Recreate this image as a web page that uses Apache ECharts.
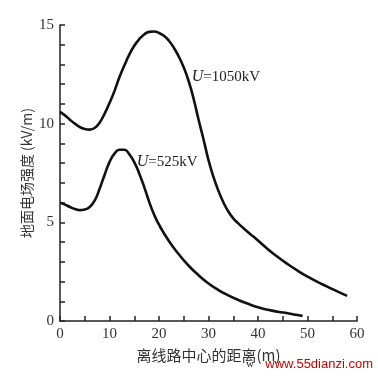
<!DOCTYPE html>
<html><head><meta charset="utf-8">
<script src="https://cdn.jsdelivr.net/npm/echarts@6/dist/echarts.min.js"></script>
<style>html,body{margin:0;padding:0;background:#fff}#c{width:378px;height:378px}</style>
</head><body><div id="c"></div>
<script>
const x1050 = [0, 1, 2, 3, 4, 5, 6, 7, 8, 9, 10, 11, 12, 13, 14, 15, 16, 17, 18, 19, 20, 21, 22, 23, 24, 25, 26, 27, 28, 29, 30, 31, 32, 33, 34, 35, 36, 37, 38, 39, 40, 42, 44, 46, 48, 50, 52, 54, 56, 58];
const y1050 = [10.6, 10.42, 10.2, 10.0, 9.83, 9.73, 9.7, 9.78, 10.05, 10.5, 11.05, 11.65, 12.35, 12.95, 13.5, 13.95, 14.28, 14.52, 14.65, 14.67, 14.6, 14.45, 14.2, 13.85, 13.4, 12.85, 12.15, 11.25, 10.2, 9.2, 8.15, 7.3, 6.6, 6.02, 5.55, 5.2, 4.95, 4.72, 4.5, 4.29, 4.08, 3.64, 3.24, 2.88, 2.55, 2.25, 1.98, 1.74, 1.5, 1.27];
const x525 = [0, 1, 2, 3, 4, 5, 6, 7, 8, 9, 10, 11, 12, 13, 14, 15, 16, 17, 18, 19, 20, 22, 24, 26, 28, 30, 32, 34, 36, 38, 40, 42, 44, 46, 48, 49];
const y525 = [6.0, 5.9, 5.78, 5.68, 5.62, 5.65, 5.78, 6.1, 6.7, 7.4, 8.05, 8.48, 8.68, 8.68, 8.45, 8.05, 7.48, 6.8, 6.05, 5.4, 4.88, 4.05, 3.38, 2.8, 2.32, 1.9, 1.57, 1.3, 1.07, 0.87, 0.7, 0.57, 0.47, 0.39, 0.3, 0.26];
const xTicks = [0, 10, 20, 30, 40, 50, 60];
const yTicks = [0, 5, 10, 15];
const xName = '离线路中心的距离(m)';
const yName = '地面电场强度 (kV/m)';
const label1050 = ['U', '=1050kV'];
const label525 = ['U', '=525kV'];

const serif = '"Liberation Serif","DejaVu Serif",serif';
const cjk = '"Noto Sans CJK SC",sans-serif';
const zip = (xs, ys) => xs.map((x, i) => [x, ys[i]]);

const chart = echarts.init(document.getElementById('c'), null, {renderer: 'canvas'});
const axisCommon = {
  axisLine: {show: true, lineStyle: {color: '#222', width: 1.5}},
  axisTick: {show: true, inside: true, length: 5, lineStyle: {color: '#222', width: 1.5}},
  minorTick: {show: true, length: 5, lineStyle: {color: '#222', width: 1.5}},
  splitLine: {show: false}
};
function lbl(parts, coord) {
  return {
    coord: coord, symbol: 'circle', symbolSize: 1,
    itemStyle: {color: 'rgba(0,0,0,0)'},
    label: {show: true, position: [0, 0], align: 'left', verticalAlign: 'middle',
      formatter: '{i|' + parts[0] + '}{n|' + parts[1] + '}',
      rich: {i: {fontFamily: serif, fontStyle: 'italic', fontSize: 16, color: '#222'},
             n: {fontFamily: serif, fontSize: 15, color: '#222'}}}
  };
}
chart.setOption({
  animation: false,
  backgroundColor: '#fff',
  grid: {left: 60, right: 21, top: 25, bottom: 57},
  xAxis: Object.assign({}, axisCommon, {
    type: 'value', min: 0, max: 60, interval: 10,
    minorTick: Object.assign({}, axisCommon.minorTick, {splitNumber: 2}),
    axisLabel: {color: '#333', fontFamily: serif, fontSize: 15, margin: 6, formatter: v => xTicks.includes(v) ? String(v) : ''},
    name: xName, nameLocation: 'middle', nameGap: 27, nameMoveOverlap: false,
    nameTextStyle: {fontFamily: cjk, fontSize: 15, color: '#333'}
  }),
  yAxis: Object.assign({}, axisCommon, {
    type: 'value', min: 0, max: 15, interval: 5,
    minorTick: Object.assign({}, axisCommon.minorTick, {splitNumber: 5}),
    axisLabel: {color: '#333', fontFamily: serif, fontSize: 15, margin: 6, formatter: v => yTicks.includes(v) ? String(v) : ''},
    name: yName, nameLocation: 'middle', nameGap: 26, nameRotate: 90, nameMoveOverlap: false,
    nameTextStyle: {fontFamily: cjk, fontSize: 14, color: '#333'}
  }),
  series: [
    {type: 'line', data: zip(x1050, y1050), smooth: 0.5, showSymbol: false,
     lineStyle: {color: '#111', width: 2.6},
     markPoint: {data: [lbl(label1050, [26.7, 12.33])]}},
    {type: 'line', data: zip(x525, y525), smooth: 0.5, showSymbol: false,
     lineStyle: {color: '#111', width: 2.6},
     markPoint: {data: [lbl(label525, [15.6, 8.02])]}}
  ],
  graphic: [
    {type: 'text', right: 5, bottom: 7, style: {text: 'www.55dianzi.com', fill: '#cc0000', font: '13px "Liberation Sans",Arial,sans-serif'}},
    {type: 'text', left: 246, bottom: 8, style: {text: 'w', fill: '#222', font: '11px ' + serif}}
  ]
});
</script></body></html>
